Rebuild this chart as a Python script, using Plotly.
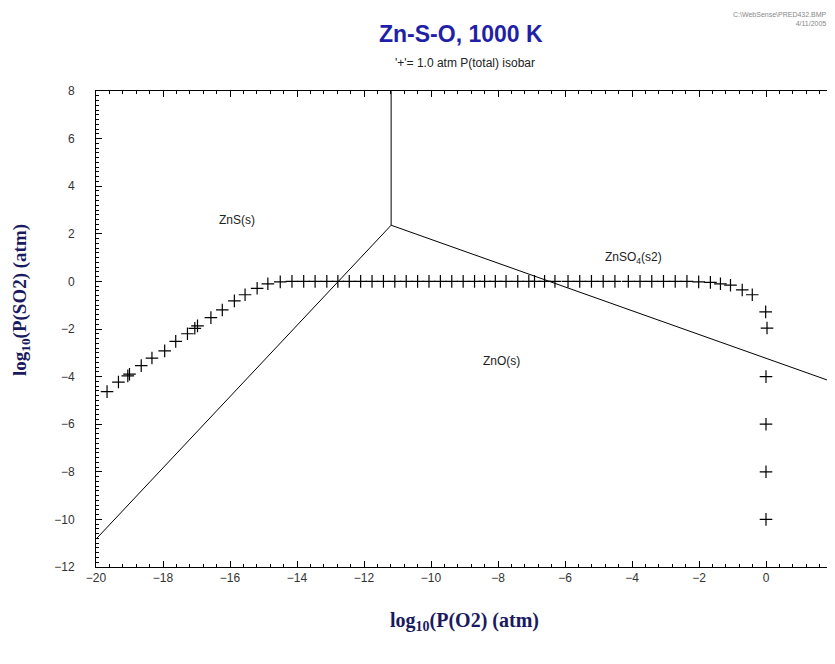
import plotly.graph_objects as go

# Phase boundaries (log10 P(O2), log10 P(SO2))
zns_zno_x = [-20.0, -11.19]
zns_zno_y = [-10.83, 2.36]
zns_znso4_x = [-11.19, -11.19]
zns_znso4_y = [2.36, 8.0]
zno_znso4_x = [-11.19, 2.0]
zno_znso4_y = [2.36, -4.23]

# 1.0 atm total-pressure isobar points
iso_x = [-19.67, -19.33, -19.05, -19.00, -18.65, -18.33, -17.95, -17.62, -17.27,
         -17.05, -16.97, -16.57, -16.23, -15.87, -15.55, -15.19, -14.87,
         -14.50, -14.15, -13.80, -13.46, -13.11, -12.78, -12.44, -12.10, -11.76,
         -11.42, -11.08, -10.74, -10.40, -10.06, -9.72, -9.38, -9.04, -8.70,
         -8.40, -8.08, -7.76, -7.41, -7.08, -6.91, -6.61, -6.30, -5.91, -5.56,
         -5.21, -4.86, -4.51, -4.11, -3.76, -3.41, -3.06, -2.71, -2.36, -2.01,
         -1.66, -1.36, -1.06, -0.71, -0.41, -0.01, 0.03, 0.0, 0.0, 0.0, 0.0]
iso_y = [-4.63, -4.23, -3.97, -3.90, -3.54, -3.22, -2.92, -2.52, -2.20,
         -1.97, -1.87, -1.52, -1.20, -0.82, -0.56, -0.29, -0.10,
         -0.02, 0.0, 0.0, 0.0, 0.0, 0.0, 0.0, 0.0, 0.0,
         0.0, 0.0, 0.0, 0.0, 0.0, 0.0, 0.0, 0.0, 0.0,
         0.0, 0.0, 0.0, 0.0, 0.0, 0.0, 0.0, 0.0, 0.0, 0.0,
         0.0, 0.0, 0.0, 0.0, 0.0, 0.0, 0.0, 0.0, 0.0, -0.02,
         -0.04, -0.10, -0.16, -0.36, -0.56, -1.28, -1.96, -4.0, -6.0, -8.0, -10.0]

region_labels = ["ZnS(s)", "ZnSO<sub>4</sub>(s2)", "ZnO(s)"]
region_x = [-15.8, -3.95, -7.9]
region_y = [2.6, 1.0, -3.35]

LEFT, RIGHT, TOP, BOTTOM = 88, 6, 83, 105

fig = go.Figure()
for xs, ys in [(zns_zno_x, zns_zno_y), (zns_znso4_x, zns_znso4_y), (zno_znso4_x, zno_znso4_y)]:
    fig.add_trace(go.Scatter(x=xs, y=ys, mode="lines",
                             line=dict(color="black", width=1), hoverinfo="skip"))
fig.add_trace(go.Scatter(x=iso_x, y=iso_y, mode="markers",
                         marker=dict(symbol="cross-thin", size=9,
                                     line=dict(color="black", width=1.2))))

for t, x, y in zip(region_labels, region_x, region_y):
    fig.add_annotation(x=x, y=y, text=t, showarrow=False,
                       font=dict(family="Arial, Liberation Sans", size=12, color="#222"))

axis_common = dict(showgrid=False, zeroline=False, showline=True, linecolor="black",
                   linewidth=1, mirror="allticks", ticks="inside", ticklen=6,
                   tickcolor="black",
                   tickfont=dict(family="Arial, Liberation Sans", size=12, color="#333"))

fig.update_xaxes(range=[-20, 2], dtick=2, tick0=0,
                 minor=dict(dtick=0.4, tick0=0, ticks="inside", ticklen=3, tickcolor="black"),
                 title=dict(text="<b>log<sub>10</sub>(P(O2) (atm)</b>",
                            font=dict(family="Liberation Serif, Times New Roman", size=20,
                                      color="#1a1a5e"), standoff=28),
                 **axis_common)
fig.update_yaxes(range=[-12, 8], dtick=2, tick0=0, ticklabelstandoff=18,
                 minor=dict(dtick=0.2, tick0=0, ticks="inside", ticklen=3, tickcolor="black"),
                 **axis_common)

# y-axis title placed explicitly
fig.add_annotation(xref="paper", yref="paper", x=0, y=0.561, xshift=-75,
                   xanchor="center", yanchor="middle", showarrow=False, textangle=-90,
                   text="<b>log<sub>10</sub>(P(SO2) (atm)</b>",
                   font=dict(family="Liberation Serif, Times New Roman", size=19,
                             color="#1a1a5e"))

fig.add_annotation(xref="paper", yref="paper", x=0.5, y=1, yshift=57, xshift=-4,
                   xanchor="center", yanchor="middle", showarrow=False,
                   text="<b>Zn-S-O, 1000 K</b>",
                   font=dict(family="Arial, Liberation Sans", size=23, color="#1f1fa8"))
fig.add_annotation(xref="paper", yref="paper", x=0.5, y=1, yshift=28, xanchor="center",
                   yanchor="middle", showarrow=False,
                   text="'+'= 1.0 atm P(total) isobar",
                   font=dict(family="Arial, Liberation Sans", size=12, color="#222"))
fig.add_annotation(xref="paper", yref="paper", x=1, y=1, yshift=72, xshift=-4,
                   xanchor="right", yanchor="middle", showarrow=False, align="right",
                   text="C:\\WebSense\\PRED432.BMP<br>4/11/2005",
                   font=dict(family="Arial, Liberation Sans", size=7, color="#888"))

fig.update_layout(width=835, height=664, showlegend=False,
                  paper_bgcolor="white", plot_bgcolor="white",
                  margin=dict(l=LEFT, r=RIGHT, t=TOP, b=BOTTOM))

fig.write_html("out.html")
